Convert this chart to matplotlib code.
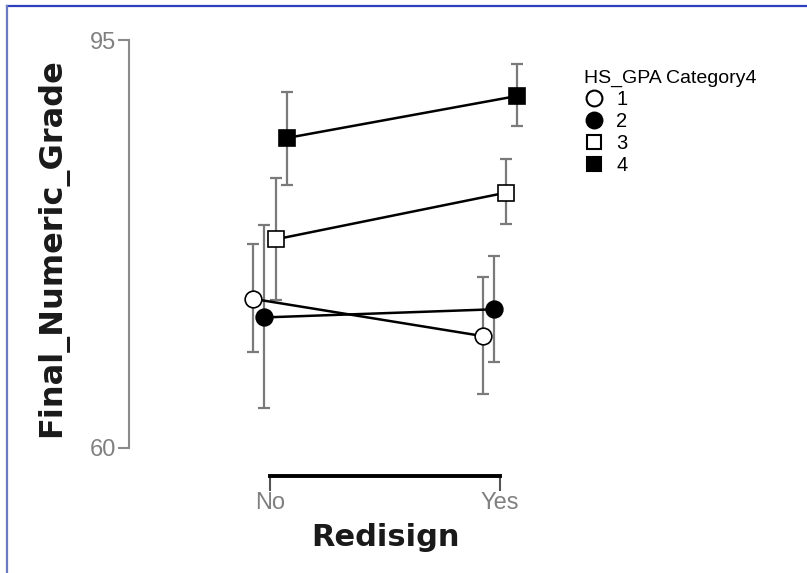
import matplotlib
matplotlib.use('Agg')
import matplotlib.pyplot as plt
from matplotlib.lines import Line2D
import numpy as np

# means and error bar limits
conditions = ['No', 'Yes']
groups = ['1', '2', '3', '4']
means = {
    '1': [72.8, 69.6],
    '2': [71.2, 71.9],
    '3': [77.9, 81.9],
    '4': [86.6, 90.2],
}
upper = {
    '1': [77.5, 74.7],
    '2': [79.1, 76.5],
    '3': [83.2, 84.8],
    '4': [90.5, 92.9],
}
lower = {
    '1': [68.2, 64.6],
    '2': [63.4, 67.4],
    '3': [72.7, 79.2],
    '4': [82.6, 87.6],
}
y_ticks = [60, 95]

markers = {'1': 'o', '2': 'o', '3': 's', '4': 's'}
faces = {'1': 'white', '2': 'black', '3': 'white', '4': 'black'}
sizes = {'1': 12, '2': 12, '3': 11, '4': 11}
dodge = {'1': -0.075, '2': -0.025, '3': 0.025, '4': 0.075}

W, H = 807, 573
fig = plt.figure(figsize=(W / 100, H / 100), dpi=100)
ax = fig.add_axes([129 / W, 125 / H, 431 / W, 408 / H])

# spines first: set_position resets the ticks
for s in ['top', 'right']:
    ax.spines[s].set_visible(False)
ax.spines['bottom'].set_position(('outward', 20))
ax.spines['left'].set_color('#8a8a8a')
ax.spines['left'].set_linewidth(1.5)
ax.spines['left'].set_bounds(60, 95)
ax.spines['bottom'].set_bounds(0, 1)
ax.spines['bottom'].set_linewidth(2.8)
ax.spines['bottom'].set_color('black')

x = np.arange(len(conditions))
for g in groups:
    xs = x + dodge[g]
    m = np.array(means[g])
    err = [m - np.array(lower[g]), np.array(upper[g]) - m]
    ax.errorbar(xs, m, yerr=err, fmt='none', ecolor='#7a7a7a',
                elinewidth=1.6, capsize=4, capthick=1.6, clip_on=False, zorder=2)
    ax.plot(xs, m, color='black', lw=1.8, marker=markers[g], ms=sizes[g],
            mfc=faces[g], mec='black', mew=1.2, clip_on=False, zorder=3)

ax.set_xlim(-(270 - 129) / 230, (560 - 270) / 230)
ax.set_ylim(60, 95)

tick_font = 'Liberation Sans'
ax.set_yticks(y_ticks)
ax.set_yticklabels([str(t) for t in y_ticks], family=tick_font,
                   fontsize=17, color='#808080')
ax.set_xticks(x)
ax.set_xticklabels(conditions, family=tick_font, fontsize=17, color='#808080')
ax.tick_params(axis='y', length=8, width=1.5, color='#8a8a8a', pad=1)
ax.tick_params(axis='x', length=11, width=1.5, color='#555555', pad=1)

fig.text(52 / W, 1 - 248 / H, 'Final_Numeric_Grade', rotation=90,
         ha='center', va='center', fontsize=23, fontweight='bold',
         family='DejaVu Sans', color='#1a1a1a')
fig.text(385 / W, 1 - 537 / H, 'Redisign', ha='center', va='center',
         fontsize=22, fontweight='bold', family='DejaVu Sans', color='#1a1a1a')

handles = [Line2D([], [], ls='none', marker=markers[g], ms=sizes[g] * 0.95,
                  mfc=faces[g], mec='black', mew=1.5) for g in groups]
leg = fig.legend(handles, groups, title='HS_GPA Category4', loc='upper left',
                 bbox_to_anchor=(584 / W, 1 - 70 / H), frameon=False,
                 handlelength=1.0, handletextpad=0.6, labelspacing=0.15,
                 borderaxespad=0, borderpad=0, alignment='left',
                 prop={'family': 'Liberation Sans', 'size': 14.5},
                 title_fontproperties={'family': 'Liberation Sans', 'size': 14})

# blue frame on top and left
fig.add_artist(Line2D([7 / W, 1], [1 - 6 / H, 1 - 6 / H], color='#2b3fbf', lw=1.6))
fig.add_artist(Line2D([7 / W, 7 / W], [0, 1 - 6 / H], color='#6b7bbf', lw=1.6))

fig.savefig('out.png', dpi=100)
